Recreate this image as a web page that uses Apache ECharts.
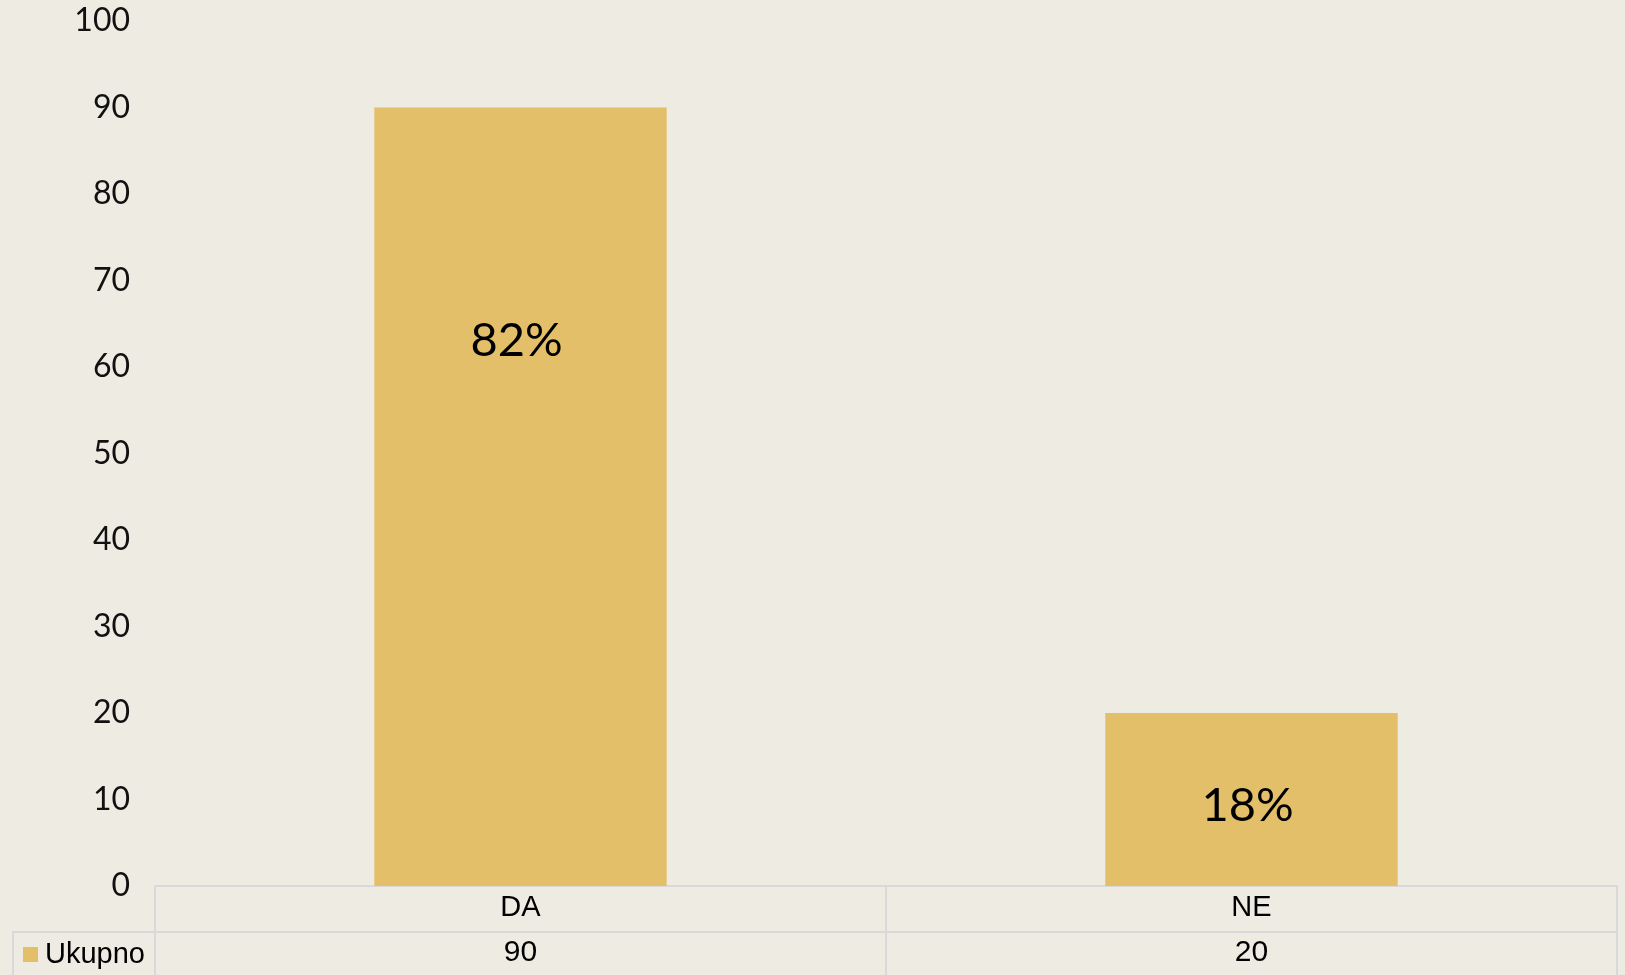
<!DOCTYPE html>
<html>
<head>
<meta charset="utf-8">
<script src="https://cdn.jsdelivr.net/npm/echarts@6/dist/echarts.min.js"></script>
<style>
html,body{margin:0;padding:0;background:#EEEBE3;}
#c{width:1625px;height:975px;}
</style>
</head>
<body>
<div id="c"></div>
<script>
const categories = ['DA', 'NE'];
const values = [90, 20];
const seriesName = 'Ukupno';
const yTicks = { min: 0, max: 100, interval: 10 };

const total = values.reduce((a, b) => a + b, 0);
const labelPositions = [['50%', '30%'], 'inside'];
const labelOffsets = [[-4, 0], [-4, 6]];
const lineColor = '#D9D9D9';
const barColor = '#E4BF6A';

const chart = echarts.init(document.getElementById('c'), null, { renderer: 'canvas' });
const gridLeft = 155, gridRight = 8, gridTop = 21, gridBottom = 89;

chart.setOption({
  backgroundColor: '#EEEBE3',
  animation: false,
  grid: { left: gridLeft, right: gridRight, top: gridTop, bottom: gridBottom, containLabel: false },
  legend: {
    data: [seriesName],
    left: 23, top: 940,
    icon: 'rect', itemWidth: 15, itemHeight: 15, itemGap: 0,
    textStyle: { fontFamily: 'Liberation Sans', fontSize: 29, color: '#000', padding: [0, 0, 0, 2] },
    padding: 0
  },
  xAxis: [
    {
      type: 'category', data: categories, position: 'bottom',
      axisLine: { show: true, lineStyle: { color: lineColor, width: 2 } },
      axisTick: { show: true, length: 46, lineStyle: { color: lineColor, width: 2 } },
      axisLabel: { margin: 7, fontFamily: 'Liberation Sans', fontSize: 29, color: '#000' },
      splitLine: { show: false }
    },
    {
      type: 'category', data: categories, position: 'bottom', offset: 46,
      axisLine: { show: true, lineStyle: { color: lineColor, width: 2 } },
      axisTick: { show: true, length: 43, lineStyle: { color: lineColor, width: 2 } },
      axisLabel: { margin: 6, fontFamily: 'Liberation Sans', fontSize: 30, color: '#000',
        formatter: (v, i) => String(values[i]) },
      splitLine: { show: false }
    }
  ],
  yAxis: {
    type: 'value', min: yTicks.min, max: yTicks.max, interval: yTicks.interval,
    axisLine: { show: false }, axisTick: { show: false }, splitLine: { show: false },
    axisLabel: { margin: 25, fontFamily: 'Lato', fontSize: 32, color: '#111' }
  },
  series: [{
    name: seriesName, type: 'bar', xAxisIndex: 0, barWidth: '40%',
    itemStyle: { color: barColor },
    data: values.map((v, i) => ({
      value: v,
      label: { position: labelPositions[i], offset: labelOffsets[i] }
    })),
    label: {
      show: true, align: 'center', verticalAlign: 'middle',
      fontFamily: 'Lato', fontSize: 47, color: '#000',
      formatter: p => Math.round(p.value / total * 100) + '%'
    }
  }],
  graphic: [
    { type: 'line', shape: { x1: 12, y1: 932, x2: gridLeft, y2: 932 }, style: { stroke: lineColor, lineWidth: 2 } },
    { type: 'line', shape: { x1: 13, y1: 932, x2: 13, y2: 975 }, style: { stroke: lineColor, lineWidth: 2 } }
  ]
});
</script>
</body>
</html>
